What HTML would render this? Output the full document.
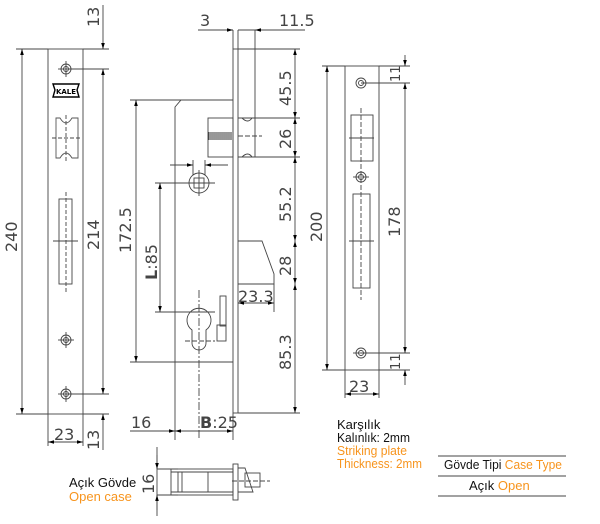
<!DOCTYPE html>
<html><head><meta charset="utf-8"><style>
html,body{margin:0;padding:0;background:#fff;}
svg{display:block;}
text{font-family:"DejaVu Sans","Liberation Sans",sans-serif;}
.o{fill:#f7941d;}
.lab text{font-family:"Liberation Sans",sans-serif;}
</style></head><body>
<svg width="600" height="524" viewBox="0 0 600 524" xmlns="http://www.w3.org/2000/svg">
<defs>
<marker id="a" viewBox="0 0 10 6" refX="10" refY="3" markerWidth="8" markerHeight="4" orient="auto-start-reverse"><path d="M0,0L10,3L0,6z" fill="#000"/></marker>
</defs>
<g stroke="#444" stroke-width="0.9" fill="none">
<rect x="48" y="49" width="35" height="365"/>
<line x1="16" y1="49" x2="48" y2="49"/><line x1="16" y1="414" x2="48" y2="414"/>
<line x1="22" y1="49" x2="22" y2="414" marker-start="url(#a)" marker-end="url(#a)"/>
<line x1="83" y1="49" x2="109" y2="49"/><line x1="66" y1="69" x2="109" y2="69"/>
<line x1="66" y1="394" x2="109" y2="394"/><line x1="83" y1="414" x2="109" y2="414"/>
<line x1="103" y1="69" x2="103" y2="394" marker-start="url(#a)" marker-end="url(#a)"/>
<line x1="103" y1="5" x2="103" y2="49" marker-end="url(#a)"/>
<line x1="103" y1="414" x2="103" y2="450" marker-start="url(#a)"/>
<line x1="48" y1="414" x2="48" y2="446"/><line x1="83" y1="414" x2="83" y2="446"/>
<line x1="48" y1="442" x2="83" y2="442" marker-start="url(#a)" marker-end="url(#a)"/>
<circle cx="66" cy="69" r="5"/><circle cx="66" cy="69" r="2.5"/>
<line x1="58" y1="69" x2="74" y2="69"/><line x1="66" y1="61" x2="66" y2="77"/>
<circle cx="66" cy="340" r="5"/><circle cx="66" cy="340" r="2.5"/>
<line x1="58" y1="340" x2="74" y2="340"/><line x1="66" y1="332" x2="66" y2="348"/>
<circle cx="66" cy="394" r="5"/><circle cx="66" cy="394" r="2.5"/>
<line x1="58" y1="394" x2="74" y2="394"/><line x1="66" y1="386" x2="66" y2="402"/>
<path d="M53,84 L79,84 L77,90 L79,97 L53,97 L55,90 Z" stroke="#000" stroke-width="1.4"/>
<path d="M56,118 L56,158 L60,158 Q66,148 72,158 L78,158 L78,118 L72,118 Q66,128 60,118 Z" stroke="#555"/>
<line x1="52" y1="138" x2="80" y2="138" stroke-dasharray="4,2"/>
<line x1="66" y1="115" x2="66" y2="162" stroke-dasharray="4,2"/>
<rect x="59" y="199" width="13" height="85"/>
<line x1="66" y1="192" x2="66" y2="292" stroke-dasharray="4,2"/>
<line x1="53" y1="241" x2="78" y2="241"/>
<rect x="233" y="49" width="5" height="364"/>
<path d="M233,100 L181,100 L175,107 L175,362 L233,362"/>
<line x1="233" y1="30" x2="233" y2="49"/><line x1="238" y1="30" x2="238" y2="49"/>
<line x1="255" y1="30" x2="255" y2="157"/>
<line x1="198" y1="30" x2="233" y2="30" marker-end="url(#a)"/>
<line x1="238" y1="30" x2="255" y2="30"/>
<line x1="255" y1="30" x2="305" y2="30" marker-start="url(#a)"/>
<line x1="130" y1="100" x2="181" y2="100"/><line x1="130" y1="362" x2="175" y2="362"/>
<line x1="136" y1="100" x2="136" y2="362" marker-start="url(#a)" marker-end="url(#a)"/>
<rect x="208" y="118" width="25" height="39"/>
<path d="M209,132 v8 M211,132 v8 M213,132 v8 M215,132 v8 M217,132 v8 M219,132 v8 M221,132 v8 M223,132 v8 M225,132 v8 M227,132 v8 M229,132 v8 M231,132 v8" stroke="#000" stroke-width="0.8"/>
<path d="M242,118 q6,6 10,0 M242,157 q6,-6 10,0"/>
<line x1="238" y1="136" x2="262" y2="136" stroke-dasharray="5,2"/>
<line x1="238" y1="118" x2="300" y2="118"/><line x1="238" y1="157" x2="300" y2="157"/>
<line x1="238" y1="49" x2="300" y2="49"/>
<line x1="295" y1="49" x2="295" y2="118" marker-start="url(#a)" marker-end="url(#a)"/>
<line x1="295" y1="118" x2="295" y2="157" marker-start="url(#a)" marker-end="url(#a)"/>
<line x1="295" y1="157" x2="295" y2="241" marker-start="url(#a)" marker-end="url(#a)"/>
<line x1="295" y1="241" x2="295" y2="284" marker-start="url(#a)" marker-end="url(#a)"/>
<line x1="295" y1="284" x2="295" y2="413" marker-start="url(#a)" marker-end="url(#a)"/>
<line x1="238" y1="413" x2="300" y2="413"/>
<circle cx="199" cy="183" r="10"/><rect x="194" y="178" width="10" height="10"/>
<line x1="186" y1="183" x2="215" y2="183"/><line x1="199" y1="170" x2="199" y2="196"/>
<line x1="170" y1="165" x2="193" y2="165" marker-end="url(#a)"/>
<line x1="205" y1="165" x2="228" y2="165" marker-start="url(#a)"/>
<line x1="193" y1="160" x2="193" y2="175"/><line x1="205" y1="160" x2="205" y2="175"/>
<line x1="155" y1="183" x2="186" y2="183"/>
<line x1="160" y1="183" x2="160" y2="312" marker-start="url(#a)" marker-end="url(#a)"/>
<path d="M238,241 L262,241 L274,274 L274,284 L238,284"/>
<line x1="274" y1="284" x2="274" y2="312"/>
<line x1="238" y1="303" x2="274" y2="303" marker-start="url(#a)" marker-end="url(#a)"/>
<path d="M192,330 A12,12 0 1 1 206,330 L206,343 A7,7 0 0 1 192,343 Z"/>
<line x1="155" y1="312" x2="215" y2="312"/><line x1="185" y1="341" x2="215" y2="341" stroke-dasharray="5,2"/>
<line x1="199" y1="290" x2="199" y2="440" stroke-dasharray="8,2,2,2"/>
<rect x="220" y="296" width="6" height="30"/><rect x="217" y="325" width="9" height="16"/>
<line x1="175" y1="362" x2="175" y2="440"/><line x1="233" y1="413" x2="233" y2="440"/>
<line x1="130" y1="431" x2="175" y2="431" marker-end="url(#a)"/>
<line x1="175" y1="431" x2="233" y2="431" marker-start="url(#a)" marker-end="url(#a)"/>
<rect x="345" y="66" width="34" height="304"/>
<line x1="322" y1="66" x2="345" y2="66"/><line x1="322" y1="370" x2="345" y2="370"/>
<line x1="327" y1="66" x2="327" y2="370" marker-start="url(#a)" marker-end="url(#a)"/>
<line x1="379" y1="66" x2="410" y2="66"/><line x1="361" y1="83" x2="410" y2="83"/>
<line x1="361" y1="353" x2="410" y2="353"/><line x1="379" y1="370" x2="410" y2="370"/>
<line x1="405" y1="55" x2="405" y2="66" marker-end="url(#a)"/>
<line x1="405" y1="83" x2="405" y2="353" marker-start="url(#a)" marker-end="url(#a)"/>
<line x1="405" y1="370" x2="405" y2="385" marker-start="url(#a)"/>
<line x1="345" y1="370" x2="345" y2="398"/><line x1="379" y1="370" x2="379" y2="398"/>
<line x1="345" y1="394" x2="379" y2="394" marker-start="url(#a)" marker-end="url(#a)"/>
<circle cx="361" cy="83" r="5"/><circle cx="361" cy="83" r="2.5"/>
<circle cx="361" cy="177" r="5"/><circle cx="361" cy="177" r="2.5"/>
<circle cx="361" cy="353" r="5"/><circle cx="361" cy="353" r="2.5"/>
<line x1="353" y1="177" x2="369" y2="177"/><line x1="353" y1="353" x2="369" y2="353"/>
<rect x="351" y="115" width="22" height="46"/>
<rect x="353" y="194" width="17" height="94"/>
<line x1="361" y1="108" x2="361" y2="300" stroke-dasharray="5,2"/>
<line x1="349" y1="138" x2="374" y2="138"/><line x1="349" y1="241" x2="374" y2="241"/>
<line x1="157" y1="447" x2="157" y2="516"/>
<line x1="157" y1="455" x2="157" y2="469" marker-end="url(#a)"/>
<line x1="157" y1="495" x2="157" y2="510" marker-start="url(#a)"/>
<line x1="157" y1="469" x2="178" y2="469"/><line x1="157" y1="495" x2="178" y2="495"/>
<rect x="171" y="469" width="62" height="26"/>
<line x1="171" y1="472" x2="233" y2="472"/><line x1="171" y1="492" x2="233" y2="492"/>
<rect x="178" y="472" width="4" height="20"/><line x1="208" y1="472" x2="208" y2="492"/>
<rect x="233" y="464" width="5" height="36"/>
<path d="M238,468 L245,468 L253,492 L238,492"/>
<rect x="245" y="473" width="15" height="14"/>
<line x1="232" y1="481" x2="270" y2="481" stroke-dasharray="5,2"/>
<line x1="438" y1="456" x2="566" y2="456"/>
<line x1="438" y1="476" x2="566" y2="476"/>
<line x1="438" y1="496" x2="566" y2="496"/>
</g>
<text x="66" y="94" font-size="7" font-weight="bold" text-anchor="middle" fill="#000">KALE</text>
<g font-size="16" fill="#444" font-family="DejaVu Sans, sans-serif">
<text transform="translate(17,252) rotate(-90)">240</text>
<text transform="translate(99,27) rotate(-90)">13</text>
<text transform="translate(99,250) rotate(-90)">214</text>
<text transform="translate(99,450) rotate(-90)">13</text>
<text x="54" y="440">23</text>
<text x="200" y="26">3</text>
<text x="279" y="26">11.5</text>
<text transform="translate(131,253) rotate(-90)">172.5</text>
<text transform="translate(157,280) rotate(-90)"><tspan font-weight="bold">L</tspan>:85</text>
<text transform="translate(291,106) rotate(-90)">45.5</text>
<text transform="translate(291,149) rotate(-90)">26</text>
<text transform="translate(291,222) rotate(-90)">55.2</text>
<text transform="translate(291,276) rotate(-90)">28</text>
<text transform="translate(291,370) rotate(-90)">85.3</text>
<text x="238" y="302">23.3</text>
<text x="131" y="428">16</text>
<text x="200" y="428"><tspan font-weight="bold">B</tspan>:25</text>
<text transform="translate(322,242) rotate(-90)">200</text>
<text transform="translate(400,237) rotate(-90)">178</text>
<text transform="translate(400,82) rotate(-90)" font-size="13">11</text>
<text transform="translate(400,370) rotate(-90)" font-size="13">11</text>
<text x="349" y="392">23</text>
<text transform="translate(154,494) rotate(-90)">16</text>
</g>
<g class="lab" font-size="13" fill="#111">
<text x="337" y="429">Karşılık</text>
<text x="337" y="442" textLength="73" lengthAdjust="spacingAndGlyphs">Kalınlık: 2mm</text>
<text x="337" y="455" class="o" textLength="70" lengthAdjust="spacingAndGlyphs">Striking plate</text>
<text x="337" y="468" class="o" textLength="85" lengthAdjust="spacingAndGlyphs">Thickness: 2mm</text>
<text x="444" y="469" textLength="118" lengthAdjust="spacingAndGlyphs">Gövde Tipi <tspan class="o">Case Type</tspan></text>
<text x="469" y="490">Açık <tspan class="o">Open</tspan></text>
<text x="69" y="487">Açık Gövde</text>
<text x="69" y="501" class="o">Open case</text>
</g>
</svg>
</body></html>
